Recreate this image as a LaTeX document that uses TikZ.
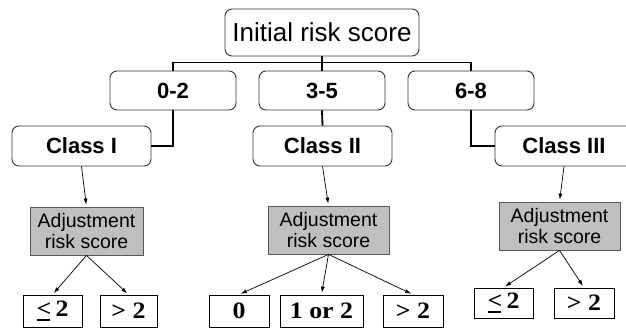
\documentclass[tikz,border=0pt]{standalone}
\usepackage{fontspec}
\setmainfont{Liberation Serif}
\newfontfamily\arialf{Liberation Sans}
\usetikzlibrary{arrows.meta}
\newcommand\hsc[2][1.0]{\scalebox{#1}[1]{#2}}
\newcommand\leqsign{\rlap{\rule[-4pt]{0.52em}{2pt}}<}
\begin{document}
\begin{tikzpicture}[x=1pt,y=-1pt,
  toptext/.style={font=\arialf\fontsize{26}{30}\selectfont},
  rbox/.style={draw=black!80, line width=0.9pt, rounded corners=7pt, fill=white, inner sep=0pt,
    font=\arialf\bfseries\fontsize{22}{26}\selectfont},
  abox/.style={draw=black!65, fill=black!25, line width=0.8pt, inner sep=0pt, align=center,
    minimum height=48pt, font=\arialf\fontsize{19.5}{21}\selectfont},
  bbox/.style={draw=black, line width=0.8pt, inner sep=0pt, fill=white,
    font=\bfseries\fontsize{23.5}{27}\selectfont},
  tree/.style={line width=1.8pt},
  arr/.style={line width=0.7pt, -{Latex[length=6pt,width=4pt]}, shorten >=2pt}]
\clip (0,0) rectangle (626,328);
\fill[white] (0,0) rectangle (626,328);
% top
\node[rbox, toptext, minimum width=194pt, minimum height=47pt] (init) at (322,32.5) {Initial risk score};
% ranges
\node[rbox, minimum width=126pt, minimum height=39pt] (r1) at (173,90.5) {0-2};
\node[rbox, minimum width=126pt, minimum height=39pt] (r2) at (322,90.5) {3-5};
\node[rbox, minimum width=126pt, minimum height=39pt] (r3) at (471,90.5) {6-8};
% classes
\node[rbox, minimum width=139pt, minimum height=40pt] (c1) at (81.5,146) {Class I};
\node[rbox, minimum width=139pt, minimum height=40pt] (c2) at (322.5,146) {Class II};
\node[rbox, minimum width=138pt, minimum height=40pt] (c3) at (564,146) {Class III};
% adjustment boxes
\node[abox, minimum width=113pt] (a1) at (86.5,231) {Adjustment\\risk score};
\node[abox, minimum width=121pt] (a2) at (328.5,230) {Adjustment\\risk score};
\node[abox, minimum width=121pt] (a3) at (559.5,226) {Adjustment\\risk score};
% outcomes
\node[bbox, minimum width=59pt, minimum height=32pt] (b1a) at (52.5,311) {\hsc[1.1]{\leqsign\,2}};
\node[bbox, minimum width=57pt, minimum height=32pt] (b1b) at (128.5,311) {\hsc[1.1]{> 2}};
\node[bbox, minimum width=60pt, minimum height=32pt] (b2a) at (239,311) {\hsc[1.1]{0}};
\node[bbox, minimum width=83pt, minimum height=32pt] (b2b) at (321.5,311) {\hsc[1.1]{1 or 2}};
\node[bbox, minimum width=60pt, minimum height=32pt] (b2c) at (413,311) {\hsc[1.1]{> 2}};
\node[bbox, minimum width=59pt, minimum height=30pt] (b3a) at (503.5,303) {\hsc[1.1]{\leqsign\,2}};
\node[bbox, minimum width=60pt, minimum height=30pt] (b3b) at (584,303) {\hsc[1.1]{> 2}};
% tree connectors
\draw[tree] (init.south) -- (r2.north);
\draw[tree] (r1.north) -- ++(0,-8) -| (r3.north);
\draw[tree] (r1.south) |- (c1.east);
\draw[tree] (r2.south) -- (c2.north);
\draw[tree] (r3.south) |- (c3.west);
% arrows
\draw[arr] (c1.south) -- (a1.north);
\draw[arr] (c2.south) -- (a2.north);
\draw[arr] (c3.south) -- (a3.north);
\draw[arr] (a1.south) -- (b1a.north);
\draw[arr] (a1.south) -- (b1b.north);
\draw[arr] (a2.south) -- (b2a.north);
\draw[arr] (a2.south) -- (b2b.north);
\draw[arr] (a2.south) -- (b2c.north);
\draw[arr] (a3.south) -- (b3a.north);
\draw[arr] (a3.south) -- (b3b.north);
\end{tikzpicture}
\end{document}
